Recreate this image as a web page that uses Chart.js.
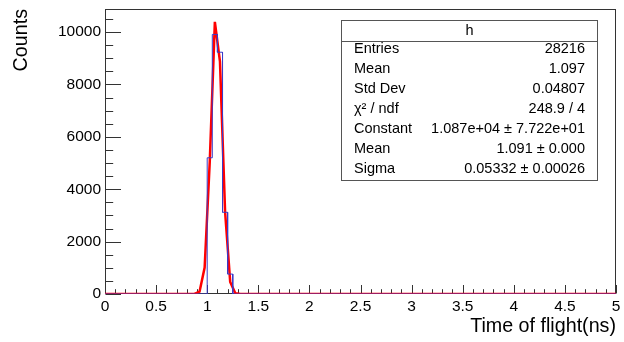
<!DOCTYPE html>
<html><head><meta charset="utf-8">
<script src="https://cdn.jsdelivr.net/npm/chart.js@4/dist/chart.umd.min.js"></script>
<style>html,body{margin:0;padding:0;background:#fff;}#wrap{width:624px;height:342px;position:relative;}</style>
</head><body><div id="wrap"><canvas id="c" width="624" height="342"></canvas></div>
<script>
// ---- data ----
const binWidth = 0.05;
const binLowEdges = [1.00, 1.05, 1.10, 1.15, 1.20];
const binCounts = [5200, 9910, 9230, 3120, 760];
const fitX = [0, 0.875, 0.925, 0.975, 1.025, 1.075, 1.125, 1.175, 1.225, 1.275, 1.325, 5];
const fitY = [0, 0, 90, 1010, 5050, 10390, 8870, 3140, 460, 30, 0, 0];
const xTickValues = [0, 0.5, 1, 1.5, 2, 2.5, 3, 3.5, 4, 4.5, 5];
const xTickLabels = ['0', '0.5', '1', '1.5', '2', '2.5', '3', '3.5', '4', '4.5', '5'];
const yTickValues = [0, 2000, 4000, 6000, 8000, 10000];
const yTickLabels = ['0', '2000', '4000', '6000', '8000', '10000'];
const histName = 'h';
const statLabels = ['Entries', 'Mean', 'Std Dev', 'χ² / ndf', 'Constant', 'Mean', 'Sigma'];
const statValues = ['28216', '1.097', '0.04807', '248.9 / 4', '1.087e+04 ± 7.722e+01', '1.091 ± 0.000', '0.05332 ± 0.00026'];
const xTitle = 'Time of flight(ns)';
const yTitle = 'Counts';
const xMin = 0, xMax = 5, yMin = 0, yMax = 10880;
const xMinorStep = 0.1, yMinorStep = 500;

const FONT = 'Liberation Sans, Arial, sans-serif';

// histogram outline built from the bins
const histPts = [{x: xMin, y: 0}];
binLowEdges.forEach((e, i) => {
  const prev = i === 0 ? 0 : binCounts[i - 1];
  histPts.push({x: e, y: prev});
  histPts.push({x: e, y: binCounts[i]});
});
const lastEdge = binLowEdges[binLowEdges.length - 1] + binWidth;
histPts.push({x: lastEdge, y: binCounts[binCounts.length - 1]});
histPts.push({x: lastEdge, y: 0});
histPts.push({x: xMax, y: 0});

const fitPts = fitX.map((x, i) => ({x, y: fitY[i]}));

const frameTicks = {
  id: 'frameTicks',
  beforeDatasetsDraw(chart) {
    const {ctx, chartArea: a, scales: {x, y}} = chart;
    ctx.save();
    ctx.strokeStyle = '#333';
    ctx.lineWidth = 1;
    const L = Math.round(a.left) + 0.5, R = Math.round(a.right) - 0.5;
    const T = Math.round(a.top) + 0.5, B = Math.round(a.bottom) - 0.5;
    ctx.strokeRect(L, T, R - L, B - T);
    ctx.beginPath();
    const nx = Math.round((xMax - xMin) / xMinorStep);
    for (let k = 0; k <= nx; k++) {
      const v = xMin + k * xMinorStep;
      const px = Math.round(x.getPixelForValue(v)) + 0.5;
      const len = (k % 5 === 0) ? 8.5 : 4.3;
      ctx.moveTo(px, B); ctx.lineTo(px, B - len);
    }
    for (let v = yMin; v <= yMax; v += yMinorStep) {
      const py = Math.round(y.getPixelForValue(v)) + 0.5;
      const len = (v % 2000 === 0) ? 15.5 : 7.7;
      ctx.moveTo(L, py); ctx.lineTo(L + len, py);
    }
    ctx.stroke();
    ctx.restore();
  },
  afterDraw(chart) {
    const {ctx} = chart;
    const bx = 341.5, by = 20.5, bw = 256, bh = 160, sep = 41.5;
    ctx.save();
    ctx.fillStyle = '#fff';
    ctx.fillRect(bx, by, bw, bh);
    ctx.strokeStyle = '#555';
    ctx.lineWidth = 1;
    ctx.strokeRect(bx, by, bw, bh);
    ctx.beginPath(); ctx.moveTo(bx, sep); ctx.lineTo(bx + bw, sep); ctx.stroke();
    ctx.fillStyle = '#000';
    ctx.font = '14.5px ' + FONT;
    ctx.textBaseline = 'middle';
    ctx.textAlign = 'center';
    ctx.fillText(histName, bx + bw / 2, 31);
    statLabels.forEach((lab, i) => {
      const ty = 49 + i * 20;
      ctx.textAlign = 'left';
      ctx.fillText(lab, 354, ty);
      ctx.textAlign = 'right';
      ctx.fillText(statValues[i], 585, ty);
    });
    ctx.restore();
  }
};

new Chart(document.getElementById('c'), {
  type: 'line',
  data: {
    datasets: [
      {data: histPts, borderColor: '#3a3ac8', borderWidth: 1, pointRadius: 0, tension: 0, fill: false},
      {data: fitPts, borderColor: '#ff0000', borderWidth: 2.5, pointRadius: 0, tension: 0, fill: false}
    ]
  },
  options: {
    responsive: false,
    animation: false,
    devicePixelRatio: 1,
    layout: {padding: {top: 9, right: 8, left: 0, bottom: 0}},
    plugins: {legend: {display: false}, tooltip: {enabled: false}},
    scales: {
      x: {
        type: 'linear', min: xMin, max: xMax,
        grid: {display: false, drawTicks: false},
        border: {display: false},
        afterBuildTicks: s => { s.ticks = xTickValues.map(v => ({value: v})); },
        afterFit: s => { s.height = 48; s.paddingLeft = 0; s.paddingRight = 0; },
        ticks: {autoSkip: false, maxRotation: 0, minRotation: 0, padding: 3, color: '#000',
          font: {family: FONT, size: 15.5},
          callback: (v, i) => xTickLabels[i]},
        title: {display: true, text: xTitle, align: 'end', color: '#000',
          font: {family: FONT, size: 19.7}, padding: {top: 0, bottom: 3.4}}
      },
      y: {
        type: 'linear', min: yMin, max: yMax,
        grid: {display: false, drawTicks: false},
        border: {display: false},
        afterBuildTicks: s => { s.ticks = yTickValues.map(v => ({value: v})); },
        afterFit: s => { s.width = 105; s.paddingTop = 0; s.paddingBottom = 0; },
        ticks: {autoSkip: false, padding: 4, color: '#000',
          font: {family: FONT, size: 15.5},
          callback: (v, i) => yTickLabels[i]},
        title: {display: true, text: yTitle, align: 'end', color: '#000',
          font: {family: FONT, size: 19.7}, padding: {top: 10.2, bottom: 0}}
      }
    }
  },
  plugins: [frameTicks]
});
</script>
</body></html>
